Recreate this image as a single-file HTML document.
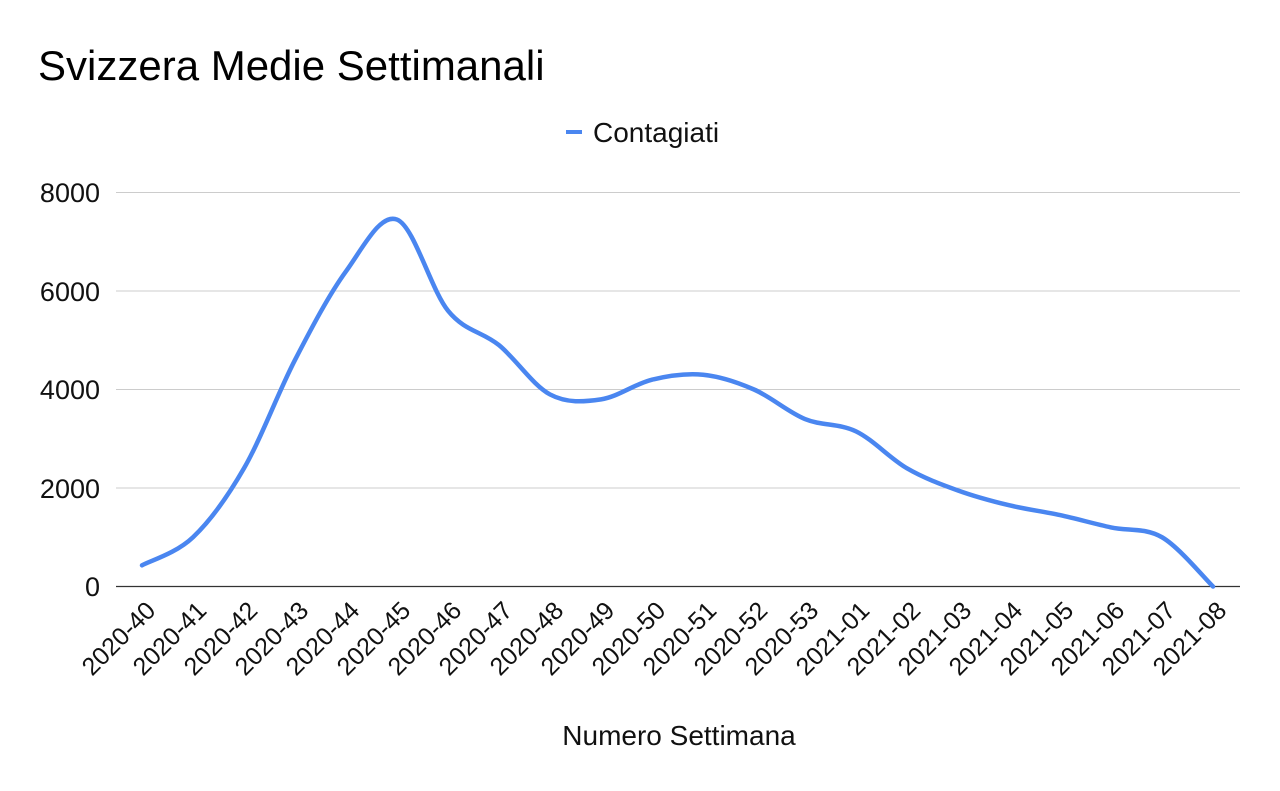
<!DOCTYPE html>
<html><head><meta charset="utf-8"><style>
html,body{margin:0;padding:0;background:#fff;}
svg{display:block;font-family:"Liberation Sans",Arial,sans-serif;}
</style></head><body>
<svg id="c" width="1280" height="791" viewBox="0 0 1280 791">
<rect width="1280" height="791" fill="#fff"/>
<text x="38" y="80" font-size="42" fill="#000">Svizzera Medie Settimanali</text>
<line x1="566" y1="132" x2="582" y2="132" stroke="#4a86f0" stroke-width="4"/>
<text x="593" y="142" font-size="28" fill="#111">Contagiati</text>
<g stroke="#cccccc" stroke-width="1">
<line x1="116" y1="192.5" x2="1240" y2="192.5"/>
<line x1="116" y1="291" x2="1240" y2="291"/>
<line x1="116" y1="389.5" x2="1240" y2="389.5"/>
<line x1="116" y1="488" x2="1240" y2="488"/>
</g>
<line x1="116" y1="586.5" x2="1240" y2="586.5" stroke="#333" stroke-width="1.2"/>
<g font-size="27" fill="#111" text-anchor="end">
<text x="100" y="202">8000</text>
<text x="100" y="301">6000</text>
<text x="100" y="399">4000</text>
<text x="100" y="498">2000</text>
<text x="100" y="596">0</text>
</g>
<g id="xl" font-size="25" fill="#111" text-anchor="end"></g>
<path id="ln" fill="none" stroke="#4a86f0" stroke-width="4.5" stroke-linejoin="round" stroke-linecap="round"/>
<text x="679" y="745" font-size="28" fill="#111" text-anchor="middle">Numero Settimana</text>
</svg>
<script>
var labels=["2020-40","2020-41","2020-42","2020-43","2020-44","2020-45","2020-46","2020-47","2020-48","2020-49","2020-50","2020-51","2020-52","2020-53","2021-01","2021-02","2021-03","2021-04","2021-05","2021-06","2021-07","2021-08"];
var v=[430,1000,2400,4600,6400,7450,5600,4900,3900,3800,4200,4300,4000,3400,3150,2400,1950,1650,1450,1200,1000,0];
var x0=142,dx=(1213-142)/21;
var pts=v.map(function(d,i){return [x0+i*dx,586.5-d*0.04925];});
var d="M"+pts[0][0]+","+pts[0][1];
for(var i=0;i<pts.length-1;i++){
 var p0=pts[Math.max(0,i-1)],p1=pts[i],p2=pts[i+1],p3=pts[Math.min(pts.length-1,i+2)];
 var t=6;
 d+=" C"+(p1[0]+(p2[0]-p0[0])/t)+","+(p1[1]+(p2[1]-p0[1])/t)+" "+(p2[0]-(p3[0]-p1[0])/t)+","+(p2[1]-(p3[1]-p1[1])/t)+" "+p2[0]+","+p2[1];
}
document.getElementById("ln").setAttribute("d",d);
var g=document.getElementById("xl"),s="";
labels.forEach(function(l,i){var x=x0+i*dx+15,y=612;
 s+='<text x="'+x+'" y="'+y+'" transform="rotate(-45 '+x+' '+y+')">'+l+'</text>';});
g.innerHTML=s;
</script>
</body></html>
